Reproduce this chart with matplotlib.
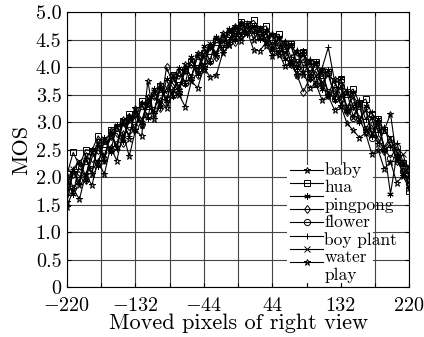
import matplotlib
matplotlib.use('Agg')
import matplotlib.pyplot as plt
import matplotlib.patches as patches
from matplotlib.lines import Line2D

plt.rcParams['font.family'] = ['cmr10', 'DejaVu Serif']
plt.rcParams['mathtext.fontset'] = 'cm'

# moved pixels of right view (step 8)
shift = list(range(-220, 221, 8))

baby = [1.55, 2.10, 1.85, 2.40, 2.05, 2.65, 2.30, 2.85, 2.55, 3.05,
        2.70, 3.25, 2.95, 3.45, 3.15, 3.70, 3.35, 3.85, 3.55, 4.05,
        3.80, 4.25, 3.95, 4.40, 4.20, 4.62, 4.40, 4.75, 4.55, 4.78,
        4.50, 4.70, 4.38, 4.60, 4.22, 4.45, 4.05, 4.30, 3.85, 4.12,
        3.70, 3.95, 3.50, 3.78, 3.30, 3.55, 3.10, 3.35, 2.85, 3.10,
        2.60, 2.85, 3.15, 2.35, 2.25, 2.05]
hua = [2.05, 2.45, 2.20, 2.50, 2.48, 2.75, 2.60, 2.85, 2.90, 3.00,
       3.15, 3.05, 3.38, 3.30, 3.50, 3.65, 3.52, 3.85, 3.78, 3.95,
       4.10, 3.98, 4.25, 4.30, 4.45, 4.42, 4.60, 4.68, 4.82, 4.78,
       4.85, 4.70, 4.75, 4.55, 4.60, 4.35, 4.42, 4.20, 4.28, 4.00,
       4.10, 3.85, 3.92, 3.70, 3.78, 3.52, 3.60, 3.35, 3.42, 3.15,
       3.05, 2.85, 2.70, 2.45, 2.25, 1.75]
pingpong = [1.95, 1.70, 2.25, 1.95, 2.50, 2.20, 2.72, 2.45, 2.95, 2.65,
            3.12, 2.85, 3.35, 3.08, 3.60, 3.28, 3.78, 3.48, 3.98, 3.70,
            4.18, 3.88, 4.38, 4.10, 4.55, 4.30, 4.70, 4.50, 4.80, 4.60,
            4.75, 4.52, 4.68, 4.32, 4.55, 4.15, 4.42, 3.98, 4.30, 3.80,
            4.10, 3.60, 3.95, 3.40, 3.80, 3.20, 3.55, 3.00, 3.30, 2.75,
            3.05, 2.50, 1.70, 2.40, 2.05, 2.20]
flower = [1.72, 2.05, 2.10, 1.95, 2.35, 2.50, 2.35, 2.75, 2.80, 2.62,
          3.05, 3.15, 2.95, 3.35, 3.48, 3.25, 4.00, 3.70, 3.55, 3.95,
          4.05, 3.85, 4.25, 4.38, 4.18, 4.55, 4.60, 4.45, 4.78, 4.72,
          4.60, 4.65, 4.50, 4.30, 4.45, 4.20, 4.05, 3.85, 3.55, 3.80,
          3.92, 3.68, 3.50, 3.62, 3.40, 3.18, 3.30, 3.05, 2.82, 2.95,
          2.70, 2.48, 2.60, 2.30, 2.10, 1.95]
circle = [2.10, 1.80, 1.95, 2.30, 2.15, 2.25, 2.65, 2.50, 2.60, 3.00,
          2.85, 2.92, 3.30, 3.12, 3.22, 3.60, 3.42, 3.50, 3.92, 3.72,
          3.82, 4.20, 4.02, 4.12, 4.52, 4.35, 4.45, 4.72, 4.58, 4.65,
          4.75, 4.55, 4.60, 4.40, 4.25, 4.38, 4.10, 3.98, 4.15, 3.82,
          3.70, 3.90, 3.55, 3.42, 3.65, 3.22, 3.08, 3.30, 2.88, 2.72,
          2.95, 2.52, 2.35, 2.55, 2.12, 1.88]
boy_plant = [1.68, 2.15, 1.90, 2.35, 2.08, 2.58, 2.30, 2.80, 2.52, 2.98,
             2.75, 3.20, 2.98, 3.40, 3.20, 3.62, 3.40, 3.82, 3.60, 4.00,
             3.82, 4.22, 4.02, 4.42, 4.25, 4.58, 4.45, 4.72, 4.60, 4.80,
             4.62, 4.72, 4.48, 4.62, 4.35, 4.48, 4.18, 4.32, 4.00, 4.15,
             3.82, 3.98, 4.36, 3.75, 3.48, 3.60, 3.28, 3.40, 3.05, 3.18,
             2.82, 2.92, 2.55, 2.62, 2.28, 2.15]
water = [1.90, 2.15, 2.30, 2.02, 2.45, 2.60, 2.40, 2.72, 2.92, 2.70,
         3.02, 3.22, 3.05, 3.30, 3.55, 3.35, 3.62, 3.85, 3.65, 3.92,
         4.12, 3.95, 4.18, 4.42, 4.25, 4.48, 4.65, 4.55, 4.70, 4.62,
         4.72, 4.55, 4.62, 4.40, 4.52, 4.25, 4.38, 4.08, 4.22, 3.90,
         4.05, 3.72, 3.85, 3.50, 3.65, 3.28, 3.45, 3.05, 3.22, 2.80,
         2.98, 2.55, 2.72, 2.30, 2.42, 2.05]
play = [1.45, 1.78, 1.60, 2.05, 1.85, 2.30, 2.05, 2.55, 2.30, 2.80,
        2.38, 2.85, 2.75, 3.75, 3.05, 3.40, 3.25, 3.58, 3.50, 3.28,
        3.75, 3.62, 4.00, 3.82, 3.85, 4.25, 4.40, 4.62, 4.48, 4.65,
        4.31, 4.30, 4.45, 4.20, 4.28, 4.02, 4.10, 3.85, 3.92, 3.62,
        3.70, 3.40, 3.48, 3.22, 3.30, 2.98, 2.85, 2.72, 2.80, 2.42,
        2.50, 2.15, 2.28, 1.90, 2.02, 1.80]

series = [baby, hua, pingpong, flower, circle, boy_plant, water, play]
markers = ['*', 's', (6, 2, 0), 'd', 'o', '+', 'x', '*']
labels = ['baby', 'hua', 'pingpong', 'flower', 'boy plant', 'water', 'play']

xticks = list(range(-220, 221, 44))
xticklabels = ['$-$220', '', '$-$132', '', '$-$44', '', '44', '', '132', '', '220']
yticks = [0, 0.5, 1.0, 1.5, 2.0, 2.5, 3.0, 3.5, 4.0, 4.5, 5.0]
yticklabels = ['0', '0.5', '1.0', '1.5', '2.0', '2.5', '3.0', '3.5', '4.0', '4.5', '5.0']

fig = plt.figure(figsize=(4.24, 3.37), dpi=100)
ax = fig.add_axes([0.158, 0.148, 0.807, 0.816])

handles = []
for y, m in zip(series, markers):
    ln, = ax.plot(shift, y, color='black', lw=0.8, marker=m, markersize=4.5,
                  markerfacecolor='none', markeredgewidth=0.7)
    handles.append(ln)

ax.set_xlim(-220, 220)
ax.set_ylim(0, 5)
ax.set_xticks(xticks)
ax.set_xticklabels(xticklabels)
ax.set_yticks(yticks)
ax.set_yticklabels(yticklabels)
ax.tick_params(direction='in', top=True, right=True, length=3, labelsize=14.5)
ax.tick_params(axis='x', pad=7)
ax.tick_params(axis='y', pad=4)
ax.grid(True, color='#444444', lw=0.8)
ax.set_axisbelow(True)
ax.set_xlabel('Moved pixels of right view', fontsize=16, labelpad=-1)
ax.set_ylabel('MOS', fontsize=16, labelpad=3)

# white legend box
ax.add_patch(patches.Rectangle((0.643, 0.015), 0.252, 0.43, transform=ax.transAxes,
                               facecolor='white', edgecolor='none', zorder=2.2))

leg1 = ax.legend(handles, [''] * 8, loc='upper left', bbox_to_anchor=(0.652, 0.44),
                 frameon=False, fontsize=8, labelspacing=0.3, handlelength=3.0,
                 handletextpad=0, borderpad=0, borderaxespad=0)
ax.add_artist(leg1)
blank = [Line2D([], [], linestyle='none') for _ in labels]
ax.legend(blank, labels, loc='upper left', bbox_to_anchor=(0.752, 0.455),
          frameon=False, fontsize=12.5, labelspacing=0.12, handlelength=0,
          handletextpad=0, borderpad=0, borderaxespad=0)

fig.savefig('out.png', dpi=100)
